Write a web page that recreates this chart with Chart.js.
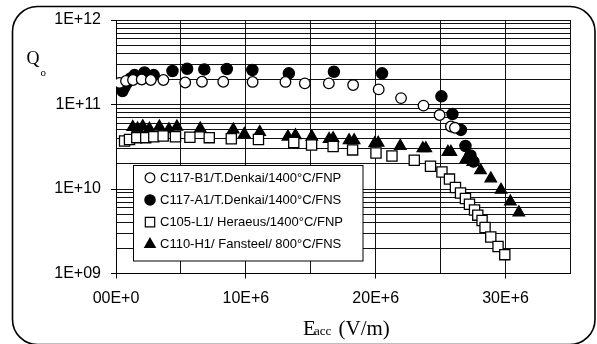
<!DOCTYPE html>
<html>
<head>
<meta charset="utf-8">
<script src="https://cdn.jsdelivr.net/npm/chart.js@4.4.1/dist/chart.umd.min.js"></script>
<style>
  html, body { margin: 0; padding: 0; background: #fff; }
  #wrap { width: 597px; height: 344px; }
</style>
</head>
<body>
<div id="wrap"><canvas id="qChart" width="597" height="344"></canvas></div>
<script>
// series names as in the legend
const seriesNames = [
  'C117-B1/T.Denkai/1400°C/FNP',
  'C117-A1/T.Denkai/1400°C/FNS',
  'C105-L1/ Heraeus/1400°C/FNP',
  'C110-H1/ Fansteel/ 800°C/FNS'
];

// C117-B1 (open circles)
const b1Eacc = [0.27e6, 0.77e6, 1.31e6, 1.98e6, 2.68e6, 3.65e6, 5.33e6, 6.62e6, 8.26e6, 10.52e6,
  13.05e6, 14.54e6, 16.39e6, 18.26e6, 20.23e6, 21.95e6, 23.68e6, 24.92e6, 25.79e6, 26.10e6];
const b1Q = [1.80e11, 1.90e11, 1.95e11, 1.98e11, 1.95e11, 1.95e11, 1.82e11, 1.86e11, 1.86e11, 1.85e11,
  1.85e11, 1.78e11, 1.78e11, 1.70e11, 1.51e11, 1.19e11, 9.7e10, 7.5e10, 5.5e10, 5.3e10];

// C117-A1 (filled circles)
const a1Eacc = [0.50e6, 0.66e6, 0.85e6, 1.12e6, 1.43e6, 2.19e6, 2.90e6, 4.35e6, 5.48e6, 6.80e6, 8.53e6,
  10.50e6, 13.31e6, 16.78e6, 20.49e6, 25.06e6, 25.91e6, 26.56e6, 26.91e6, 27.30e6, 27.53e6];
const a1Q = [1.44e11, 1.61e11, 1.80e11, 2.03e11, 2.23e11, 2.39e11, 2.23e11, 2.49e11, 2.65e11, 2.60e11, 2.63e11,
  2.56e11, 2.34e11, 2.44e11, 2.34e11, 1.25e11, 7.7e10, 5.0e10, 3.23e10, 2.49e10, 2.11e10];

// C105-L1 (open squares)
const l1Eacc = [0.66e6, 1.04e6, 1.60e6, 2.29e6, 2.91e6, 3.63e6, 4.58e6, 5.69e6, 7.18e6, 8.88e6, 10.97e6,
  13.69e6, 15.06e6, 16.72e6, 18.22e6, 20.02e6, 21.25e6, 22.97e6, 24.22e6, 25.10e6, 25.68e6, 26.14e6,
  26.53e6, 26.91e6, 27.22e6, 27.61e6, 27.86e6, 28.19e6, 28.42e6, 28.86e6, 29.42e6, 29.94e6];
const l1Q = [3.70e10, 3.85e10, 4.05e10, 4.05e10, 4.16e10, 4.24e10, 4.16e10, 4.09e10, 4.05e10, 3.93e10, 3.85e10,
  3.55e10, 3.32e10, 3.18e10, 2.90e10, 2.67e10, 2.46e10, 2.19e10, 1.86e10, 1.59e10, 1.31e10, 1.04e10,
  8.97e9, 7.73e9, 6.59e9, 5.64e9, 4.90e9, 4.24e9, 3.50e9, 2.70e9, 2.09e9, 1.67e9];

// C110-H1 (filled triangles)
const h1Eacc = [1.29e6, 1.66e6, 2.06e6, 2.57e6, 3.34e6, 4.08e6, 4.69e6, 6.49e6, 9.03e6, 9.88e6, 11.07e6,
  13.24e6, 13.82e6, 15.08e6, 16.41e6, 16.72e6, 17.95e6, 18.34e6, 19.92e6, 20.19e6, 21.89e6, 23.63e6,
  23.86e6, 25.56e6, 25.79e6, 26.95e6, 27.47e6, 28.07e6, 28.86e6, 29.65e6, 30.37e6, 31.02e6];
const h1Q = [5.40e10, 5.19e10, 5.52e10, 5.15e10, 5.46e10, 5.08e10, 5.46e10, 5.19e10, 5.04e10, 4.47e10, 4.71e10,
  4.16e10, 4.32e10, 4.16e10, 3.89e10, 3.98e10, 3.76e10, 3.76e10, 3.47e10, 3.51e10, 3.23e10, 3.03e10,
  3.03e10, 2.74e10, 2.74e10, 2.26e10, 2.09e10, 1.66e10, 1.33e10, 9.76e9, 7.09e9, 5.28e9];

// tick labels
const xTickLabels = ['00E+0', '10E+6', '20E+6', '30E+6'];
const yMajorValues = [1e9, 1e10, 1e11, 1e12];
const yTickLabels = ['1E+09', '1E+10', '1E+11', '1E+12'];

function toPoints(xs, ys) {
  return xs.map((x, i) => ({ x: x, y: ys[i] }));
}

const markerStyles = [
  { pointStyle: 'circle', radius: 5.3, bg: '#fff' },
  { pointStyle: 'circle', radius: 5.6, bg: '#000' },
  { pointStyle: 'rect', radius: 7.2, bg: '#fff' },
  { pointStyle: 'triangle', radius: 6.6, bg: '#000' }
];

const seriesData = [
  toPoints(b1Eacc, b1Q),
  toPoints(a1Eacc, a1Q),
  toPoints(l1Eacc, l1Q),
  toPoints(h1Eacc, h1Q)
];

// outer rounded frame
const framePlugin = {
  id: 'frame',
  beforeDraw(chart) {
    const ctx = chart.ctx;
    ctx.save();
    ctx.fillStyle = '#fff';
    ctx.fillRect(0, 0, chart.width, chart.height);
    ctx.strokeStyle = '#000';
    ctx.lineWidth = 1.6;
    ctx.beginPath();
    ctx.roundRect(12.5, 6.5, 582.5, 338, 25);
    ctx.stroke();
    ctx.restore();
  }
};

// legend box and axis titles
const legendPlugin = {
  id: 'boxLegend',
  afterDraw(chart) {
    const ctx = chart.ctx;
    ctx.save();
    ctx.fillStyle = '#fff';
    ctx.strokeStyle = '#000';
    ctx.lineWidth = 1;
    ctx.fillRect(133.5, 165.5, 229.5, 95.5);
    ctx.strokeRect(133.5, 165.5, 229.5, 95.5);

    ctx.font = '13px "Liberation Sans", Arial, sans-serif';
    ctx.textBaseline = 'middle';
    ctx.textAlign = 'left';
    seriesNames.forEach((name, i) => {
      const y = 177.7 + i * 22.2;
      const m = markerStyles[i];
      ctx.fillStyle = m.bg;
      ctx.strokeStyle = '#000';
      ctx.lineWidth = 1.2;
      Chart.helpers.drawPoint(ctx, {
        pointStyle: m.pointStyle,
        radius: m.radius * 0.92,
        rotation: 0,
        borderWidth: 1.2
      }, 150, y);
      ctx.fillStyle = '#000';
      ctx.fillText(name, 160, y + 0.5);
    });

    // y title: Q with subscript o
    ctx.fillStyle = '#000';
    ctx.textBaseline = 'alphabetic';
    ctx.font = '18px "Liberation Serif", "Times New Roman", serif';
    ctx.fillText('Q', 26.5, 63.5);
    ctx.font = '11px "Liberation Serif", "Times New Roman", serif';
    ctx.fillText('o', 40.5, 76);

    // x title: Eacc (V/m)
    ctx.font = '21px "Liberation Serif", "Times New Roman", serif';
    ctx.fillText('E', 303, 335);
    ctx.font = '13px "Liberation Serif", "Times New Roman", serif';
    ctx.fillText('acc', 314, 335);
    ctx.font = '21px "Liberation Serif", "Times New Roman", serif';
    ctx.fillText('(V/m)', 338.5, 335);
    ctx.restore();
  }
};

const ctx = document.getElementById('qChart').getContext('2d');
new Chart(ctx, {
  type: 'scatter',
  data: {
    datasets: seriesData.map((pts, i) => ({
      label: seriesNames[i],
      data: pts,
      pointStyle: markerStyles[i].pointStyle,
      pointRadius: markerStyles[i].radius,
      pointHoverRadius: markerStyles[i].radius,
      backgroundColor: markerStyles[i].bg,
      borderColor: '#000',
      borderWidth: 1.3,
      showLine: false
    }))
  },
  options: {
    responsive: false,
    animation: false,
    devicePixelRatio: 1,
    layout: { padding: { left: 0, top: 20, right: 26.5, bottom: 0 } },
    plugins: {
      legend: { display: false },
      tooltip: { enabled: false }
    },
    scales: {
      x: {
        type: 'linear',
        min: 0,
        max: 35e6,
        afterFit: (scale) => { scale.height = 70.5; },
        border: { display: true, color: '#000', width: 1 },
        grid: {
          color: '#111',
          lineWidth: 1,
          drawTicks: true,
          tickLength: 5,
          tickColor: (c) => (c.tick && c.tick.value % 10e6 === 0) ? '#000' : 'rgba(0,0,0,0)'
        },
        ticks: {
          stepSize: 5e6,
          autoSkip: false,
          maxRotation: 0,
          padding: 10,
          color: '#000',
          font: { family: '"Liberation Sans", Arial, sans-serif', size: 16 },
          callback: (v) => (v % 10e6 === 0) ? xTickLabels[v / 10e6] : ''
        }
      },
      y: {
        type: 'logarithmic',
        min: 1e9,
        max: 1e12,
        afterFit: (scale) => { scale.width = 116; },
        afterBuildTicks: (scale) => {
          const t = [];
          for (let e = 9; e < 12; e++) {
            for (let m = 1; m < 10; m++) t.push({ value: m * Math.pow(10, e) });
          }
          t.push({ value: 1e12 });
          scale.ticks = t;
        },
        border: { display: true, color: '#000', width: 1 },
        grid: {
          color: '#111',
          lineWidth: 1,
          drawTicks: true,
          tickLength: 5,
          tickColor: (c) => (c.tick && yMajorValues.indexOf(c.tick.value) >= 0) ? '#000' : 'rgba(0,0,0,0)'
        },
        ticks: {
          autoSkip: false,
          padding: 10,
          color: '#000',
          font: { family: '"Liberation Sans", Arial, sans-serif', size: 16 },
          callback: (v) => {
            const i = yMajorValues.indexOf(v);
            return i >= 0 ? yTickLabels[i] : '';
          }
        }
      }
    }
  },
  plugins: [framePlugin, legendPlugin]
});
</script>
</body>
</html>
